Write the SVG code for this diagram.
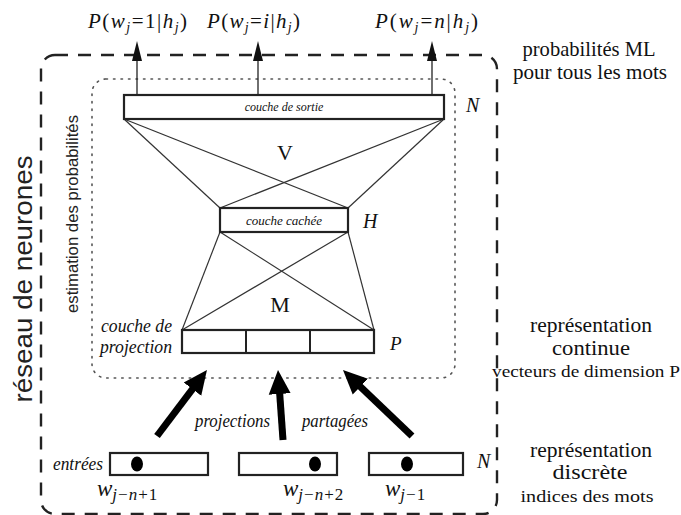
<svg xmlns="http://www.w3.org/2000/svg" width="681" height="515" viewBox="0 0 681 515">
<defs>
<style>
.serif{font-family:"Liberation Serif","DejaVu Serif",serif;fill:#111}
.it{font-style:italic}
.sans{font-family:"Liberation Sans","DejaVu Sans",sans-serif;fill:#222}
.box{fill:#fff;stroke:#222;stroke-width:2.2}
.thin{stroke:#333;stroke-width:1.2;fill:none}
.big{stroke:#000;stroke-width:7;fill:none}
.up{stroke:#222;stroke-width:1.3;fill:none}
</style>
<marker id="bigHead" markerUnits="userSpaceOnUse" markerWidth="24" markerHeight="24" refX="10" refY="11" orient="auto" viewBox="0 0 24 22">
<path d="M0,0 L24,11 L0,22 z" fill="#000"/>
</marker>
<marker id="smallHead" markerUnits="userSpaceOnUse" markerWidth="20" markerHeight="10" refX="10" refY="5" orient="auto" viewBox="0 0 20 10">
<path d="M0,0 L20,5 L0,10 z" fill="#111"/>
</marker>
</defs>
<rect width="681" height="515" fill="#fff"/>

<g id="outer-frame">
<rect x="41" y="55" width="456" height="459" rx="14" fill="none" stroke="#222" stroke-width="2.4" stroke-dasharray="13 10"/>
</g>
<g id="inner-frame">
<rect x="92" y="79" width="363" height="299" rx="14" fill="none" stroke="#555" stroke-width="1.6" stroke-dasharray="1.5 6" stroke-linecap="round"/>
</g>

<g id="connectors">
<line class="thin" x1="124" y1="119" x2="220" y2="208"/>
<line class="thin" x1="124" y1="119" x2="348" y2="208"/>
<line class="thin" x1="444" y1="119" x2="220" y2="208"/>
<line class="thin" x1="444" y1="119" x2="348" y2="208"/>
<line class="thin" x1="220" y1="232" x2="182" y2="330"/>
<line class="thin" x1="220" y1="232" x2="374" y2="330"/>
<line class="thin" x1="348" y1="232" x2="182" y2="330"/>
<line class="thin" x1="348" y1="232" x2="374" y2="330"/>
<line class="up" x1="137" y1="95" x2="137" y2="51" marker-end="url(#smallHead)"/>
<line class="up" x1="258" y1="95" x2="258" y2="51" marker-end="url(#smallHead)"/>
<line class="up" x1="432" y1="95" x2="432" y2="51" marker-end="url(#smallHead)"/>
<line class="big" x1="157" y1="436" x2="198.5" y2="381.2" marker-end="url(#bigHead)"/>
<line class="big" x1="283" y1="440" x2="279" y2="384" marker-end="url(#bigHead)"/>
<line class="big" x1="412" y1="436" x2="353.1" y2="379.7" marker-end="url(#bigHead)"/>
</g>

<g id="output-layer">
<rect class="box" x="124" y="95" width="320" height="24"/>
<text class="serif it" x="284" y="111" font-size="12" text-anchor="middle">couche de sortie</text>
<text class="serif it" x="466" y="112" font-size="20">N</text>
</g>

<g id="hidden-layer">
<rect class="box" x="220" y="208" width="128" height="24"/>
<text class="serif it" x="284" y="224.5" font-size="13" text-anchor="middle">couche cachée</text>
<text class="serif it" x="363" y="228" font-size="20">H</text>
</g>

<g id="projection-layer">
<rect class="box" x="182" y="330" width="192" height="23"/>
<line stroke="#222" stroke-width="2" x1="246" y1="330" x2="246" y2="353"/>
<line stroke="#222" stroke-width="2" x1="310" y1="330" x2="310" y2="353"/>
<text class="serif it" x="101" y="332" font-size="18" textLength="71" lengthAdjust="spacingAndGlyphs">couche de</text>
<text class="serif it" x="100" y="353" font-size="18" textLength="72" lengthAdjust="spacingAndGlyphs">projection</text>
<text class="serif it" x="390" y="350" font-size="19">P</text>
</g>

<g id="weights">
<text class="serif" x="285" y="160" font-size="22" text-anchor="middle">V</text>
<text class="serif" x="280" y="312" font-size="22" text-anchor="middle">M</text>
</g>

<g id="outputs">
<text class="serif" x="88" y="28" font-size="21" textLength="99" lengthAdjust="spacing"><tspan font-style="italic">P</tspan>(<tspan font-style="italic">w</tspan><tspan font-size="14" dy="4" font-style="italic">j</tspan><tspan dy="-4">=1|</tspan><tspan font-style="italic">h</tspan><tspan font-size="14" dy="4" font-style="italic">j</tspan><tspan dy="-4">)</tspan></text>
<text class="serif" x="207" y="28" font-size="21" textLength="93" lengthAdjust="spacing"><tspan font-style="italic">P</tspan>(<tspan font-style="italic">w</tspan><tspan font-size="14" dy="4" font-style="italic">j</tspan><tspan dy="-4">=</tspan><tspan font-style="italic">i</tspan>|<tspan font-style="italic">h</tspan><tspan font-size="14" dy="4" font-style="italic">j</tspan><tspan dy="-4">)</tspan></text>
<text class="serif" x="375" y="28" font-size="21" textLength="103" lengthAdjust="spacing"><tspan font-style="italic">P</tspan>(<tspan font-style="italic">w</tspan><tspan font-size="14" dy="4" font-style="italic">j</tspan><tspan dy="-4">=</tspan><tspan font-style="italic">n</tspan>|<tspan font-style="italic">h</tspan><tspan font-size="14" dy="4" font-style="italic">j</tspan><tspan dy="-4">)</tspan></text>
</g>

<g id="projection-labels">
<text class="serif it" x="195" y="427" font-size="18" textLength="75" lengthAdjust="spacingAndGlyphs">projections</text>
<text class="serif it" x="302" y="427" font-size="18" textLength="66" lengthAdjust="spacingAndGlyphs">partagées</text>
</g>

<g id="input-1">
<rect class="box" x="110" y="453" width="98" height="22"/>
<ellipse cx="137" cy="464" rx="6" ry="7.5" fill="#000"/>
<text class="serif" x="97" y="496" font-size="23"><tspan font-style="italic">w</tspan><tspan font-size="17" dy="4" font-style="italic">j</tspan><tspan font-size="17" dx="1">−</tspan><tspan font-size="17" font-style="italic" dx="1">n</tspan><tspan font-size="17" dx="1">+</tspan><tspan font-size="17" dx="1">1</tspan></text>
</g>
<g id="input-2">
<rect class="box" x="239" y="453" width="98" height="22"/>
<ellipse cx="315" cy="464" rx="6" ry="7.5" fill="#000"/>
<text class="serif" x="283" y="496" font-size="23"><tspan font-style="italic">w</tspan><tspan font-size="17" dy="4" font-style="italic">j</tspan><tspan font-size="17" dx="1">−</tspan><tspan font-size="17" font-style="italic" dx="1">n</tspan><tspan font-size="17" dx="1">+</tspan><tspan font-size="17" dx="1">2</tspan></text>
</g>
<g id="input-3">
<rect class="box" x="369" y="453" width="94" height="22"/>
<ellipse cx="407" cy="464" rx="6" ry="7.5" fill="#000"/>
<text class="serif" x="385" y="496" font-size="23"><tspan font-style="italic">w</tspan><tspan font-size="17" dy="4" font-style="italic">j</tspan><tspan font-size="17" dx="1">−</tspan><tspan font-size="17" dx="1">1</tspan></text>
</g>
<g id="input-labels">
<text class="serif it" x="53" y="470" font-size="18" textLength="50" lengthAdjust="spacingAndGlyphs">entrées</text>
<text class="serif it" x="477" y="468" font-size="20">N</text>
</g>

<g id="side-labels">
<text class="sans" transform="translate(32,279) rotate(-90)" font-size="25" text-anchor="middle" textLength="247" lengthAdjust="spacingAndGlyphs">réseau de neurones</text>
<text class="sans" transform="translate(78,214) rotate(-90)" font-size="17" text-anchor="middle" textLength="198" lengthAdjust="spacingAndGlyphs">estimation des probabilités</text>
</g>

<g id="right-labels">
<text class="serif" x="589" y="56" font-size="21" text-anchor="middle" textLength="133" lengthAdjust="spacingAndGlyphs">probabilités ML</text>
<text class="serif" x="590" y="79" font-size="21" text-anchor="middle" textLength="154" lengthAdjust="spacingAndGlyphs">pour tous les mots</text>
<text class="serif" x="591" y="332" font-size="21" text-anchor="middle" textLength="122" lengthAdjust="spacingAndGlyphs">représentation</text>
<text class="serif" x="591" y="355" font-size="21" text-anchor="middle" textLength="78" lengthAdjust="spacingAndGlyphs">continue</text>
<text class="serif" x="586" y="377" font-size="17" text-anchor="middle" textLength="188" lengthAdjust="spacingAndGlyphs">vecteurs de dimension P</text>
<text class="serif" x="591" y="457" font-size="21" text-anchor="middle" textLength="122" lengthAdjust="spacingAndGlyphs">représentation</text>
<text class="serif" x="590" y="479" font-size="21" text-anchor="middle" textLength="75" lengthAdjust="spacingAndGlyphs">discrète</text>
<text class="serif" x="587" y="502" font-size="17" text-anchor="middle" textLength="133" lengthAdjust="spacingAndGlyphs">indices des mots</text>
</g>
</svg>
